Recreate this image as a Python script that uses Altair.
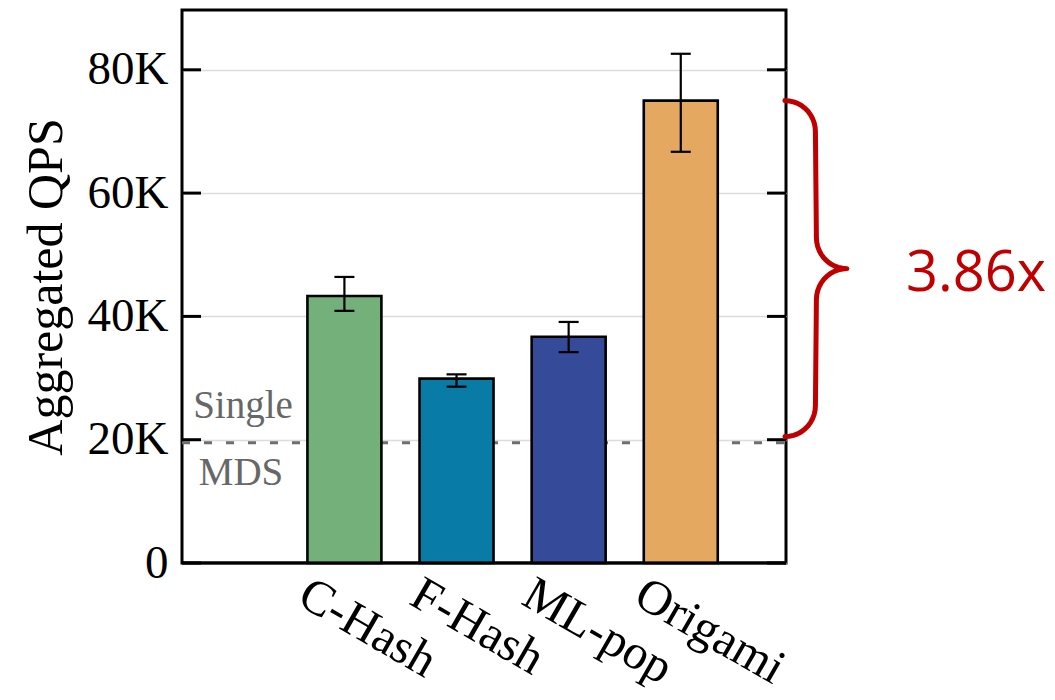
import altair as alt
import numpy as np
import pandas as pd

# ---- data ----
systems = ["C-Hash", "F-Hash", "ML-pop", "Origami"]
qps = [43300, 29900, 36700, 75000]
err_low = [40900, 28600, 34200, 66700]
err_high = [46400, 30600, 39100, 82600]
colors = ["#74b07a", "#087ca6", "#354b99", "#e5a860"]
single_mds = 19500
y_ticks = [0, 20000, 40000, 60000, 80000]
speedup_label = "3.86x"
brace_top = 75000
brace_bottom = 20500

# ---- layout ----
W, H = 604, 553
XMIN, XMAX = -1.404, 3.894
YMAX = 89700
px_x = W / (XMAX - XMIN)
SERIF = "Liberation Serif"

df = pd.DataFrame({"idx": list(range(len(systems))), "sys": systems, "qps": qps,
                   "lo": err_low, "hi": err_high})

xs = alt.Scale(domain=[XMIN, XMAX], nice=False, zero=False)
ys = alt.Scale(domain=[0, YMAX], nice=False, zero=True)

label_expr = "[" + ",".join("'%s'" % s for s in systems) + "][datum.value]"

base = alt.Chart(df)

bars = base.mark_bar(size=74, stroke="black", strokeWidth=2.6).encode(
    x=alt.X("idx:Q", scale=xs,
            axis=alt.Axis(values=list(range(len(systems))), labelExpr=label_expr, title=None,
                          grid=False, ticks=False, tickSize=0, domain=False,
                          labelAngle=30, labelAlign="left", labelBaseline="top",
                          labelFont=SERIF, labelFontSize=49, labelColor="black",
                          labelOverlap=False, labelBound=False, labelFlush=False,
                          labelPadding=6, labelOffset=-30)),
    y=alt.Y("qps:Q", scale=ys,
            axis=alt.Axis(values=y_ticks,
                          labelExpr="datum.value == 0 ? '0' : (datum.value/1000) + 'K'",
                          title="Aggregated QPS", titleFont=SERIF, titleFontSize=50,
                          titleFontWeight="normal", titleColor="black", titlePadding=16,
                          labelFont=SERIF, labelFontSize=47, labelColor="black",
                          labelPadding=14, ticks=False, tickSize=0, domain=False,
                          labelOverlap=False,
                          grid=True, gridColor="#dcdcdc", gridWidth=1.5)),
    color=alt.Color("sys:N", scale=alt.Scale(domain=systems, range=colors), legend=None),
)

err_rule = base.mark_rule(color="black", strokeWidth=2.2).encode(
    x=alt.X("idx:Q", scale=xs), y=alt.Y("lo:Q", scale=ys), y2="hi:Q")
cap_lo = base.mark_tick(orient="horizontal", size=20, thickness=2.2, color="black", opacity=1).encode(
    x=alt.X("idx:Q", scale=xs), y=alt.Y("lo:Q", scale=ys))
cap_hi = base.mark_tick(orient="horizontal", size=20, thickness=2.2, color="black", opacity=1).encode(
    x=alt.X("idx:Q", scale=xs), y=alt.Y("hi:Q", scale=ys))

ref_df = pd.DataFrame({"v": [single_mds]})
dashed = alt.Chart(ref_df).mark_rule(color="#6e6e6e", strokeWidth=3, strokeDash=[8, 14]).encode(
    y=alt.Y("v:Q", scale=ys), x=alt.value(0), x2=alt.value(W))

tick_df = pd.DataFrame({"t": y_ticks})
ticks_left = alt.Chart(tick_df).mark_rule(color="black", strokeWidth=3).encode(
    y=alt.Y("t:Q", scale=ys), x=alt.value(0), x2=alt.value(19))
ticks_right = alt.Chart(tick_df).mark_rule(color="black", strokeWidth=3).encode(
    y=alt.Y("t:Q", scale=ys), x=alt.value(W - 19), x2=alt.value(W))
bottom_frame = alt.Chart(pd.DataFrame({"t": [0]})).mark_rule(color="black", strokeWidth=3).encode(
    y=alt.Y("t:Q", scale=ys), x=alt.value(0), x2=alt.value(W))

txt_single = alt.Chart(ref_df).mark_text(text="Single", font=SERIF, fontSize=39, color="#676767",
                                         align="center", baseline="alphabetic", dy=-25).encode(
    y=alt.Y("v:Q", scale=ys), x=alt.value(61))
txt_mds = alt.Chart(ref_df).mark_text(text="MDS", font=SERIF, fontSize=39, color="#676767",
                                      align="center", baseline="alphabetic", dy=42).encode(
    y=alt.Y("v:Q", scale=ys), x=alt.value(59))

# ---- brace (annotation geometry, in pixels relative to plot, converted to data units) ----
py_top = H * (1 - brace_top / YMAX)
py_bot = H * (1 - brace_bottom / YMAX)
py_mid = (py_top + py_bot) / 2
r = 31.0
x0, xv = W + 4, W + 36
pts = []
th = np.linspace(-np.pi / 2, 0, 12)
pts += [(x0 + r * np.cos(t), py_top + r + r * np.sin(t)) for t in th]
th = np.linspace(np.pi, np.pi / 2, 12)
pts += [(xv + r + r * np.cos(t), py_mid - r + r * np.sin(t)) for t in th]
th = np.linspace(-np.pi / 2, -np.pi, 12)
pts += [(xv + r + r * np.cos(t), py_mid + r + r * np.sin(t)) for t in th]
th = np.linspace(0, np.pi / 2, 12)
pts += [(x0 + r * np.cos(t), py_bot - r + r * np.sin(t)) for t in th]
brace_df = pd.DataFrame({
    "i": list(range(len(pts))),
    "bx": [XMIN + p[0] / px_x for p in pts],
    "by": [YMAX * (1 - p[1] / H) for p in pts],
})
brace = alt.Chart(brace_df).mark_line(color="#c00000", strokeWidth=5, clip=False,
                                      strokeCap="round", strokeJoin="round").encode(
    x=alt.X("bx:Q", scale=xs), y=alt.Y("by:Q", scale=ys), order="i:Q")

mid_df = pd.DataFrame({"m": [(brace_top + brace_bottom) / 2]})
txt_speed = alt.Chart(mid_df).mark_text(text=speedup_label, font="Open Sans", fontSize=56,
                                        color="#c00000", align="left", baseline="alphabetic",
                                        dy=22).encode(
    y=alt.Y("m:Q", scale=ys), x=alt.value(724))

chart = alt.layer(dashed, bars, err_rule, cap_lo, cap_hi, ticks_left, ticks_right, bottom_frame,
                  txt_single, txt_mds, brace, txt_speed).properties(
    width=W, height=H,
    autosize=alt.AutoSizeParams(type="none"),
    padding={"left": 174, "top": 2, "right": 261, "bottom": 136},
).configure(background="white").configure_view(stroke="black", strokeWidth=3)

chart.save("out.html", embed_options={"renderer": "svg", "actions": False})
